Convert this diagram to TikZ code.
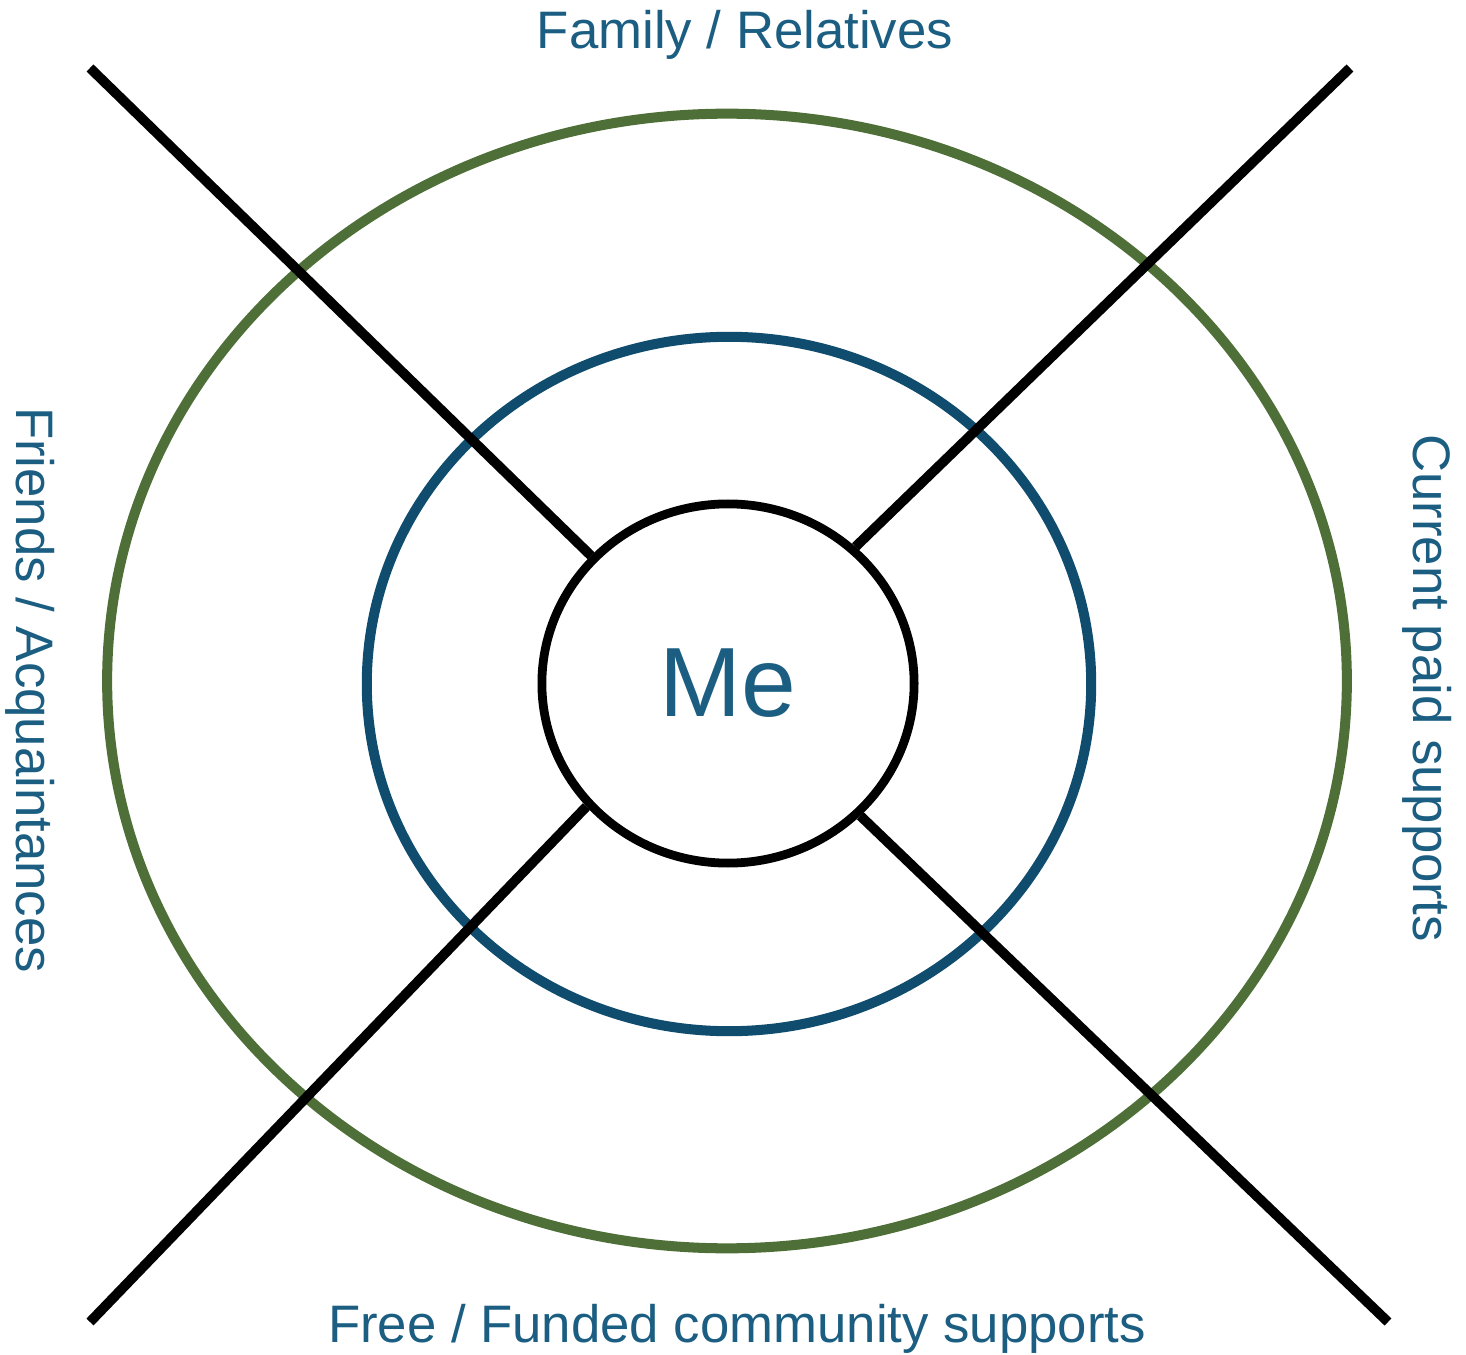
\documentclass[tikz,border=0pt]{standalone}
\usepackage{fontspec}
\setmainfont{Liberation Sans}
\usetikzlibrary{shapes.geometric}
\definecolor{ringgreen}{HTML}{4E7038}
\definecolor{ringblue}{HTML}{0F4C6D}
\definecolor{labelblue}{HTML}{1B5E82}
\tikzset{x=0.01cm, y=-0.01cm,
ring/.style={ % Sets the look of the two outer rings
line width=2.85pt},
spoke/.style={ % The four dividing lines
draw, line width=2.8pt},
centre/.style={ % The inner circle with its text
ellipse, draw, line width=2.5pt,
minimum width=3.72cm, minimum height=3.59cm,
inner sep=0pt, text=labelblue,
font=\fontsize{28}{30}\selectfont},
sector/.style={ % Labels of the four quarters
text=labelblue, inner sep=0pt,
font=\fontsize{15}{17}\selectfont}}

\begin{document}
\begin{tikzpicture}
\useasboundingbox (0,0) rectangle (1466,1355);
\draw[ring, ringgreen] (727,681) ellipse [x radius=6.195cm, y radius=5.67cm];
\draw[ring, ringblue] (729,684) ellipse [x radius=3.62cm, y radius=3.47cm];
\node[centre] (me) at (728,683.5) {Me};
\coordinate (ul) at (90,68);
\coordinate (ur) at (1350,68);
\coordinate (ll) at (90,1322);
\coordinate (lr) at (1388,1322);
\draw[spoke] (ul) -- (me.137);
\draw[spoke] (ur) -- (me.47);
\draw[spoke] (ll) -- (me.221);
\draw[spoke] (lr) -- (me.315);
\node[sector] (family) at (745,35) {Family / Relatives};
\node[sector] (community) at (737,1329) {Free / Funded community supports};
\node[sector, rotate=-90] (friends) at (30,690) {Friends / Acquaintances};
\node[sector, rotate=-90] (paid) at (1427,688) {Current paid supports};
\end{tikzpicture}
\end{document}
